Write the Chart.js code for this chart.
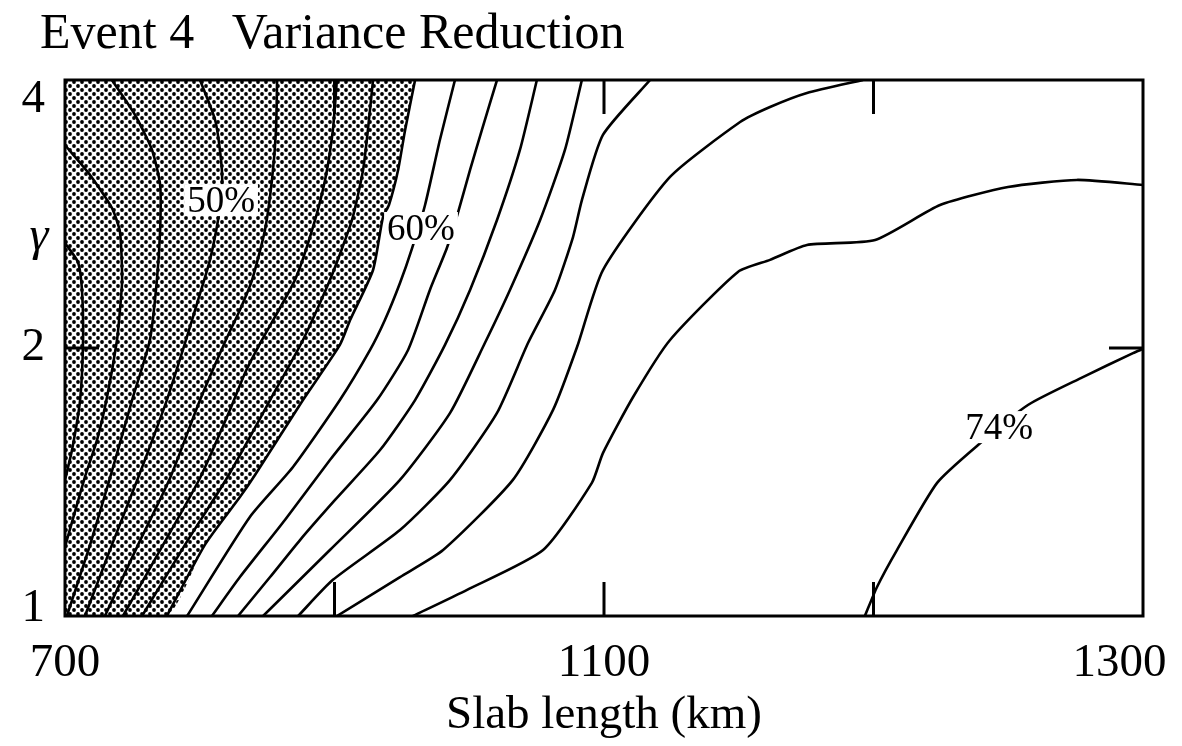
<!DOCTYPE html>
<html>
<head>
<meta charset="utf-8">
<script src="https://cdn.jsdelivr.net/npm/chart.js"></script>
<style>
  html, body { margin: 0; padding: 0; background: #fff; }
  #wrap { width: 1182px; height: 746px; }
</style>
</head>
<body>
<div id="wrap"><canvas id="chart"></canvas></div>
<script>
// axis ticks (x is the position along the slab-length grid)
var xTicks = [0, 1, 2, 3, 4];
var xTickLabels = ["700", "", "1100", "", "1300"];
var yTicks = [1, 2, 4];

// variance reduction contours, points are [slab position, gamma]
var c44 = [[0, 2.624], [0.048, 2.498], [0.063, 2.324], [0.067, 2.042], [0.056, 1.748], [0.026, 1.536], [0, 1.422]];
var c46 = [[0, 3.381], [0.093, 3.129], [0.174, 2.873], [0.204, 2.700], [0.212, 2.384], [0.204, 2.207], [0.193, 2.042], [0.156, 1.762], [0.119, 1.577], [0.074, 1.433], [0, 1.196]];
var c48 = [[0.174, 4], [0.260, 3.654], [0.323, 3.338], [0.353, 3.049], [0.353, 2.714], [0.341, 2.384], [0.315, 2.042], [0.249, 1.748], [0.167, 1.429], [0.093, 1.202], [0.007, 1]];
var c50 = [[0.501, 4], [0.557, 3.607], [0.579, 3.253], [0.583, 3.049], [0.571, 2.821], [0.538, 2.512], [0.494, 2.265], [0.449, 2.042], [0.378, 1.748], [0.271, 1.429], [0.174, 1.202], [0.074, 1]];
var c52 = [[0.787, 4], [0.783, 3.515], [0.768, 3.089], [0.742, 2.714], [0.694, 2.384], [0.649, 2.207], [0.597, 2.042], [0.501, 1.748], [0.390, 1.429], [0.271, 1.202], [0.148, 1]];
var c54 = [[1.009, 4], [0.994, 3.515], [0.965, 3.089], [0.917, 2.714], [0.853, 2.384], [0.731, 2.042], [0.668, 1.875], [0.612, 1.704], [0.501, 1.429], [0.353, 1.186], [0.215, 1]];
var c56 = [[1.143, 4], [1.124, 3.515], [1.106, 3.170], [1.065, 2.785], [0.983, 2.384], [0.883, 2.042], [0.761, 1.748], [0.601, 1.429], [0.445, 1.202], [0.286, 1]];
var c58 = [[1.299, 4], [1.262, 3.515], [1.236, 3.170], [1.202, 2.895], [1.180, 2.807], [1.143, 2.447], [1.058, 2.150], [1.020, 2.016], [0.883, 1.748], [0.705, 1.440], [0.649, 1.360], [0.519, 1.202], [0.378, 1]];
var c60 = [[1.447, 4], [1.391, 3.425], [1.336, 2.895], [1.288, 2.590], [1.243, 2.366], [1.187, 2.150], [1.132, 1.990], [1.020, 1.748], [0.846, 1.470], [0.686, 1.292], [0.453, 1]];
var c62 = [[1.603, 4], [1.547, 3.515], [1.503, 3.170], [1.458, 2.836], [1.417, 2.590], [1.354, 2.324], [1.273, 1.990], [1.158, 1.748], [0.983, 1.497], [0.816, 1.282], [0.649, 1.106], [0.545, 1]];
var c64 = [[1.751, 4], [1.688, 3.338], [1.603, 2.785], [1.503, 2.324], [1.410, 2.016], [1.299, 1.748], [1.169, 1.536], [1.002, 1.350], [0.872, 1.217], [0.761, 1.106], [0.642, 1]];
var c66 = [[1.918, 4], [1.855, 3.338], [1.763, 2.785], [1.651, 2.324], [1.558, 2.026], [1.429, 1.691], [1.243, 1.422], [0.983, 1.186], [0.735, 1]];
var c68 = [[2.171, 4], [1.996, 3.470], [1.918, 2.932], [1.885, 2.665], [1.818, 2.324], [1.718, 2.026], [1.603, 1.691], [1.429, 1.422], [1.243, 1.249], [0.994, 1.098], [0.865, 1]];
var c70 = [[2.961, 4], [2.753, 3.868], [2.616, 3.730], [2.505, 3.588], [2.245, 3.113], [1.996, 2.447], [1.900, 2.005], [1.811, 1.704], [1.662, 1.422], [1.403, 1.186], [1.243, 1.106], [1.009, 1]];
var c72 = [[4, 3.049], [3.755, 3.089], [3.499, 3.033], [3.247, 2.895], [3.006, 2.645], [2.753, 2.611], [2.616, 2.512], [2.497, 2.435], [2.245, 2.042], [2.108, 1.762], [1.996, 1.524], [1.955, 1.411], [1.774, 1.186], [1.492, 1.070], [1.291, 1]];
var c74 = [[4, 1.995], [3.963, 1.974], [3.777, 1.855], [3.573, 1.726], [3.388, 1.556], [3.236, 1.411], [3.087, 1.186], [3.013, 1.078], [2.968, 1]];

// contour labels: text, slab position, gamma
var contourLabels = [["50%", 0.579, 2.932], ["60%", 1.321, 2.728], ["74%", 3.466, 1.630]];

var serif = '"Liberation Serif", "Times New Roman", serif';
Chart.defaults.font.family = serif;
Chart.defaults.color = "#000";

// dot screen for the region below 58%
function dotPattern() {
  var c = document.createElement("canvas");
  c.width = 8;
  c.height = 8;
  var g = c.getContext("2d");
  g.fillStyle = "#fff";
  g.fillRect(0, 0, 8, 8);
  g.fillStyle = "#000";
  g.beginPath();
  g.arc(2, 2, 1.9, 0, Math.PI * 2);
  g.fill();
  g.beginPath();
  g.arc(6, 6, 1.9, 0, Math.PI * 2);
  g.fill();
  return g.createPattern(c, "repeat");
}

function toXY(pts) {
  return pts.map(function (p) {
    return { x: p[0], y: p[1] };
  });
}

function contour(pts) {
  return {
    data: toXY(pts),
    borderColor: "#000",
    borderWidth: 2.6,
    pointRadius: 0,
    tension: 0.2,
    fill: false,
    order: 0,
  };
}

var lines = [c44, c46, c48, c50, c52, c54, c56, c58, c60, c62, c64, c66, c68, c70, c72, c74];
var datasets = lines.map(contour);

// shaded area: from the lower left corner up along the 58% contour, filled to the top
datasets.push({
  data: toXY([[0, 1]].concat(c58.slice().reverse())),
  borderWidth: 0,
  pointRadius: 0,
  tension: 0.2,
  backgroundColor: dotPattern(),
  fill: "end",
  order: 1,
});

var decorations = {
  id: "decorations",
  afterDatasetsDraw: function (chart) {
    var ctx = chart.ctx;
    var a = chart.chartArea;
    var xs = chart.scales.x;
    var ys = chart.scales.y;
    ctx.save();

    // labels sit on small white boxes
    ctx.font = "37px " + serif;
    ctx.textAlign = "center";
    ctx.textBaseline = "middle";
    contourLabels.forEach(function (l) {
      var px = xs.getPixelForValue(l[1]);
      var py = ys.getPixelForValue(l[2]);
      var w = ctx.measureText(l[0]).width + 6;
      ctx.fillStyle = "#fff";
      ctx.fillRect(px - w / 2, py - 16, w, 32);
      ctx.fillStyle = "#000";
      ctx.fillText(l[0], px, py + 2);
    });

    // frame
    ctx.strokeStyle = "#000";
    ctx.lineWidth = 3;
    ctx.strokeRect(a.left, a.top, a.right - a.left, a.bottom - a.top);

    // inward ticks
    ctx.beginPath();
    xTicks.forEach(function (v) {
      if (v === xs.min || v === xs.max) return;
      var px = xs.getPixelForValue(v);
      ctx.moveTo(px, a.bottom);
      ctx.lineTo(px, a.bottom - 34);
      ctx.moveTo(px, a.top);
      ctx.lineTo(px, a.top + 34);
    });
    yTicks.forEach(function (v) {
      if (v === ys.min || v === ys.max) return;
      var py = ys.getPixelForValue(v);
      ctx.moveTo(a.left, py);
      ctx.lineTo(a.left + 34, py);
      ctx.moveTo(a.right, py);
      ctx.lineTo(a.right - 34, py);
    });
    ctx.stroke();

    // gamma tick labels, end ones pulled inside the frame height
    ctx.fillStyle = "#000";
    ctx.font = "47px " + serif;
    ctx.textAlign = "right";
    ctx.textBaseline = "middle";
    yTicks.forEach(function (v) {
      var py = ys.getPixelForValue(v);
      if (v === ys.max) py += 20;
      if (v === ys.min) py -= 7;
      ctx.fillText(String(v), a.left - 20, py);
    });

    // y axis symbol, upright like the original
    ctx.font = "italic 48px " + serif;
    ctx.textAlign = "center";
    ctx.textBaseline = "alphabetic";
    ctx.fillText("\u03b3", a.left - 26, a.top + (a.bottom - a.top) * 0.318);
    ctx.restore();
  },
};

new Chart(document.getElementById("chart"), {
  type: "line",
  data: { datasets: datasets },
  options: {
    responsive: true,
    maintainAspectRatio: false,
    animation: false,
    layout: { padding: { left: 40, right: 39, top: 0, bottom: 0 } },
    plugins: {
      legend: { display: false },
      tooltip: { enabled: false },
      title: {
        display: true,
        text: "Event 4   Variance Reduction",
        align: "start",
        color: "#000",
        font: { size: 50, weight: "normal", family: serif },
        padding: { top: 5, bottom: 15 },
      },
    },
    scales: {
      x: {
        type: "linear",
        min: 0,
        max: 4,
        grid: { display: false },
        border: { display: false },
        afterBuildTicks: function (s) {
          s.ticks = xTicks.map(function (v) {
            return { value: v };
          });
        },
        ticks: {
          font: { size: 47 },
          padding: 11,
          maxRotation: 0,
          autoSkip: false,
          callback: function (v, i, t) {
            var lab = xTickLabels[xTicks.indexOf(v)];
            // last label kept inside the page
            return i === t.length - 1 ? lab + "\u2007\u2007" : lab;
          },
        },
        title: {
          display: true,
          text: "Slab length (km)",
          font: { size: 47 },
          padding: { top: 0, bottom: 2 },
        },
        afterFit: function (s) {
          s.height = 130;
          s.paddingLeft = 0;
          s.paddingRight = 0;
        },
      },
      y: {
        type: "logarithmic",
        min: 1,
        max: 4,
        grid: { display: false },
        border: { display: false },
        afterBuildTicks: function (s) {
          s.ticks = yTicks.map(function (v) {
            return { value: v };
          });
        },
        ticks: { display: false },
        afterFit: function (s) {
          s.width = 25;
          s.paddingTop = 0;
          s.paddingBottom = 0;
        },
      },
    },
  },
  plugins: [decorations],
});
</script>
</body>
</html>
